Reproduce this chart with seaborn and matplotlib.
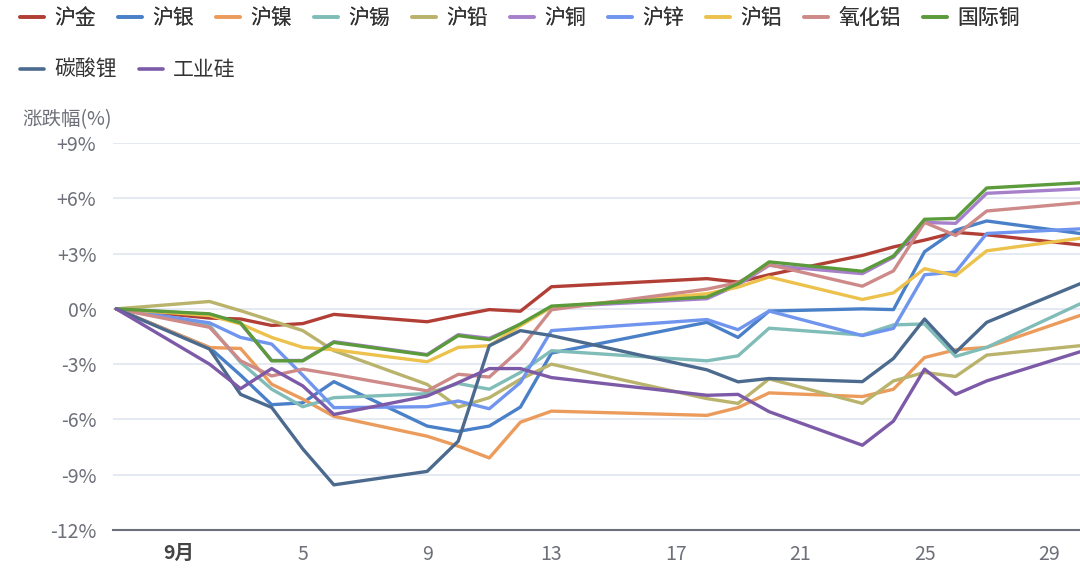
import matplotlib
matplotlib.use("Agg")
import matplotlib.pyplot as plt
import matplotlib.dates as mdates
from matplotlib.lines import Line2D
import seaborn as sns
import pandas as pd

dates = ["2024-08-30", "2024-09-02", "2024-09-03", "2024-09-04", "2024-09-05",
         "2024-09-06", "2024-09-09", "2024-09-10", "2024-09-11", "2024-09-12",
         "2024-09-13", "2024-09-18", "2024-09-19", "2024-09-20", "2024-09-23",
         "2024-09-24", "2024-09-25", "2024-09-26", "2024-09-27", "2024-09-30"]

hu_jin = [0, -0.5, -0.55, -0.9, -0.8, -0.3, -0.7, -0.36, -0.04, -0.13, 1.2, 1.64, 1.45, 1.85, 2.9, 3.36, 3.73, 4.15, 4.02, 3.47]
hu_yin = [0, -2.1, -3.6, -5.2, -5.1, -3.95, -6.36, -6.65, -6.36, -5.33, -2.4, -0.73, -1.55, -0.12, 0.0, -0.04, 3.1, 4.27, 4.77, 4.09]
hu_nie = [0, -2.1, -2.15, -4.09, -4.9, -5.83, -6.91, -7.45, -8.09, -6.15, -5.55, -5.78, -5.36, -4.56, -4.76, -4.36, -2.64, -2.22, -2.09, -0.36]
hu_xi = [0, -0.9, -2.9, -4.36, -5.31, -4.82, -4.6, -4.05, -4.36, -3.45, -2.27, -2.82, -2.55, -1.05, -1.42, -0.87, -0.82, -2.58, -2.09, 0.27]
hu_qian = [0, 0.4, -0.1, -0.64, -1.18, -2.27, -4.1, -5.33, -4.82, -3.82, -3.0, -4.87, -5.13, -3.8, -5.13, -3.91, -3.45, -3.67, -2.51, -2.0]
hu_tong = [0, -0.3, -0.8, -2.8, -2.8, -1.78, -2.48, -1.4, -1.6, -0.85, 0.1, 0.55, 1.3, 2.36, 1.91, 2.8, 4.69, 4.64, 6.27, 6.51]
hu_xin = [0, -0.76, -1.55, -1.91, -3.6, -5.36, -5.31, -5.0, -5.42, -4.0, -1.18, -0.58, -1.13, -0.12, -1.45, -1.06, 1.85, 2.0, 4.09, 4.34]
hu_lv = [0, -0.36, -0.82, -1.55, -2.09, -2.22, -2.87, -2.09, -2.0, -0.91, 0.09, 0.82, 1.18, 1.73, 0.51, 0.87, 2.18, 1.8, 3.15, 3.83]
yanghualv = [0, -1.0, -2.82, -3.64, -3.27, -3.55, -4.45, -3.55, -3.7, -2.18, -0.05, 1.07, 1.42, 2.4, 1.23, 2.06, 4.69, 3.98, 5.31, 5.76]
guoji_tong = [0, -0.27, -0.76, -2.82, -2.82, -1.82, -2.51, -1.45, -1.67, -0.82, 0.15, 0.64, 1.36, 2.55, 2.04, 2.87, 4.86, 4.91, 6.56, 6.84]
tansuanli = [0, -2.18, -4.64, -5.35, -7.6, -9.55, -8.82, -7.18, -2.0, -1.18, -1.45, -3.31, -3.96, -3.78, -3.95, -2.69, -0.55, -2.36, -0.73, 1.36]
gongyegui = [0, -3.0, -4.33, -3.24, -4.18, -5.73, -4.73, -4.0, -3.24, -3.24, -3.73, -4.69, -4.64, -5.58, -7.4, -6.09, -3.27, -4.64, -3.91, -2.33]

names = ["沪金", "沪银", "沪镍", "沪锡", "沪铅", "沪铜", "沪锌", "沪铝", "氧化铝", "国际铜", "碳酸锂", "工业硅"]
series = [hu_jin, hu_yin, hu_nie, hu_xi, hu_qian, hu_tong, hu_xin, hu_lv, yanghualv, guoji_tong, tansuanli, gongyegui]
colors = ["#b23f36", "#4a80c8", "#eb9c5c", "#80bdb8", "#b9b36c", "#a780cc",
          "#7095ee", "#ecc24c", "#cd8a88", "#5b9b3b", "#4b6a8e", "#7c5aa8"]

yticks = [-12, -9, -6, -3, 0, 3, 6, 9]
ytick_labels = ["-12%", "-9%", "-6%", "-3%", "0%", "+3%", "+6%", "+9%"]
xtick_dates = ["2024-09-01", "2024-09-05", "2024-09-09", "2024-09-13",
               "2024-09-17", "2024-09-21", "2024-09-25", "2024-09-29"]
xtick_labels = ["9月", "5", "9", "13", "17", "21", "25", "29"]

rows = []
for n, vals in zip(names, series):
    for d, v in zip(dates, vals):
        rows.append({"date": pd.Timestamp(d), "value": v, "name": n})
df = pd.DataFrame(rows)

sns.set_theme(style="white")
plt.rcParams["font.family"] = ["Noto Sans CJK SC", "DejaVu Sans"]

W, H = 1080, 578
fig = plt.figure(figsize=(W / 100, H / 100), dpi=100)
ax = fig.add_axes([113 / W, (H - 530) / H, (1080 - 113) / W, (530 - 143) / H])

palette = dict(zip(names, colors))
sns.lineplot(data=df, x="date", y="value", hue="name", hue_order=names,
             palette=palette, linewidth=2.4, ax=ax, legend=False, clip_on=True)

ax.set_ylim(-12, 9)
ax.set_xlim(pd.Timestamp("2024-08-29 21:30"), pd.Timestamp("2024-09-30"))
ax.set_yticks(yticks)
ax.set_yticklabels(ytick_labels)
ax.set_xticks([mdates.date2num(pd.Timestamp(d)) for d in xtick_dates])
ax.set_xticklabels(xtick_labels)
ax.set_xlabel("")
ax.set_ylabel("")

for y in yticks[1:]:
    ax.axhline(y, color="#e0e5f0", linewidth=1.2, zorder=0)

for s in ["top", "right", "left"]:
    ax.spines[s].set_visible(False)
ax.spines["bottom"].set_color("#6e7079")
ax.spines["bottom"].set_linewidth(1.5)

ax.tick_params(axis="y", length=0, labelsize=14, labelcolor="#6e7079", pad=12)
ax.tick_params(axis="x", length=6, width=1, color="#6e7079", labelsize=14,
               labelcolor="#6e7079", pad=4, direction="out")
for lbl in ax.get_xticklabels():
    if lbl.get_text() == "9月":
        lbl.set_fontweight("bold")
        lbl.set_color("#444444")

fig.text(22 / W, 1 - 120 / H, "涨跌幅(%)", fontsize=14, color="#6e7079",
         ha="left", va="center")

handles = [Line2D([0], [0], color=c, linewidth=2.6) for c in colors]
leg1 = fig.legend(handles[:10], names[:10], loc="upper left",
                  bbox_to_anchor=(20 / W, 1 - 7 / H), ncol=10, frameon=False,
                  fontsize=15, handlelength=1.15, handletextpad=0.5,
                  columnspacing=1.05, borderpad=0, borderaxespad=0)
fig.add_artist(leg1)
leg2 = fig.legend(handles[10:], names[10:], loc="upper left",
                  bbox_to_anchor=(20 / W, 1 - 59 / H), ncol=2, frameon=False,
                  fontsize=15, handlelength=1.15, handletextpad=0.5,
                  columnspacing=1.05, borderpad=0, borderaxespad=0)
for leg in (leg1, leg2):
    for t in leg.get_texts():
        t.set_color("#333333")

fig.savefig("out.png", dpi=100)
